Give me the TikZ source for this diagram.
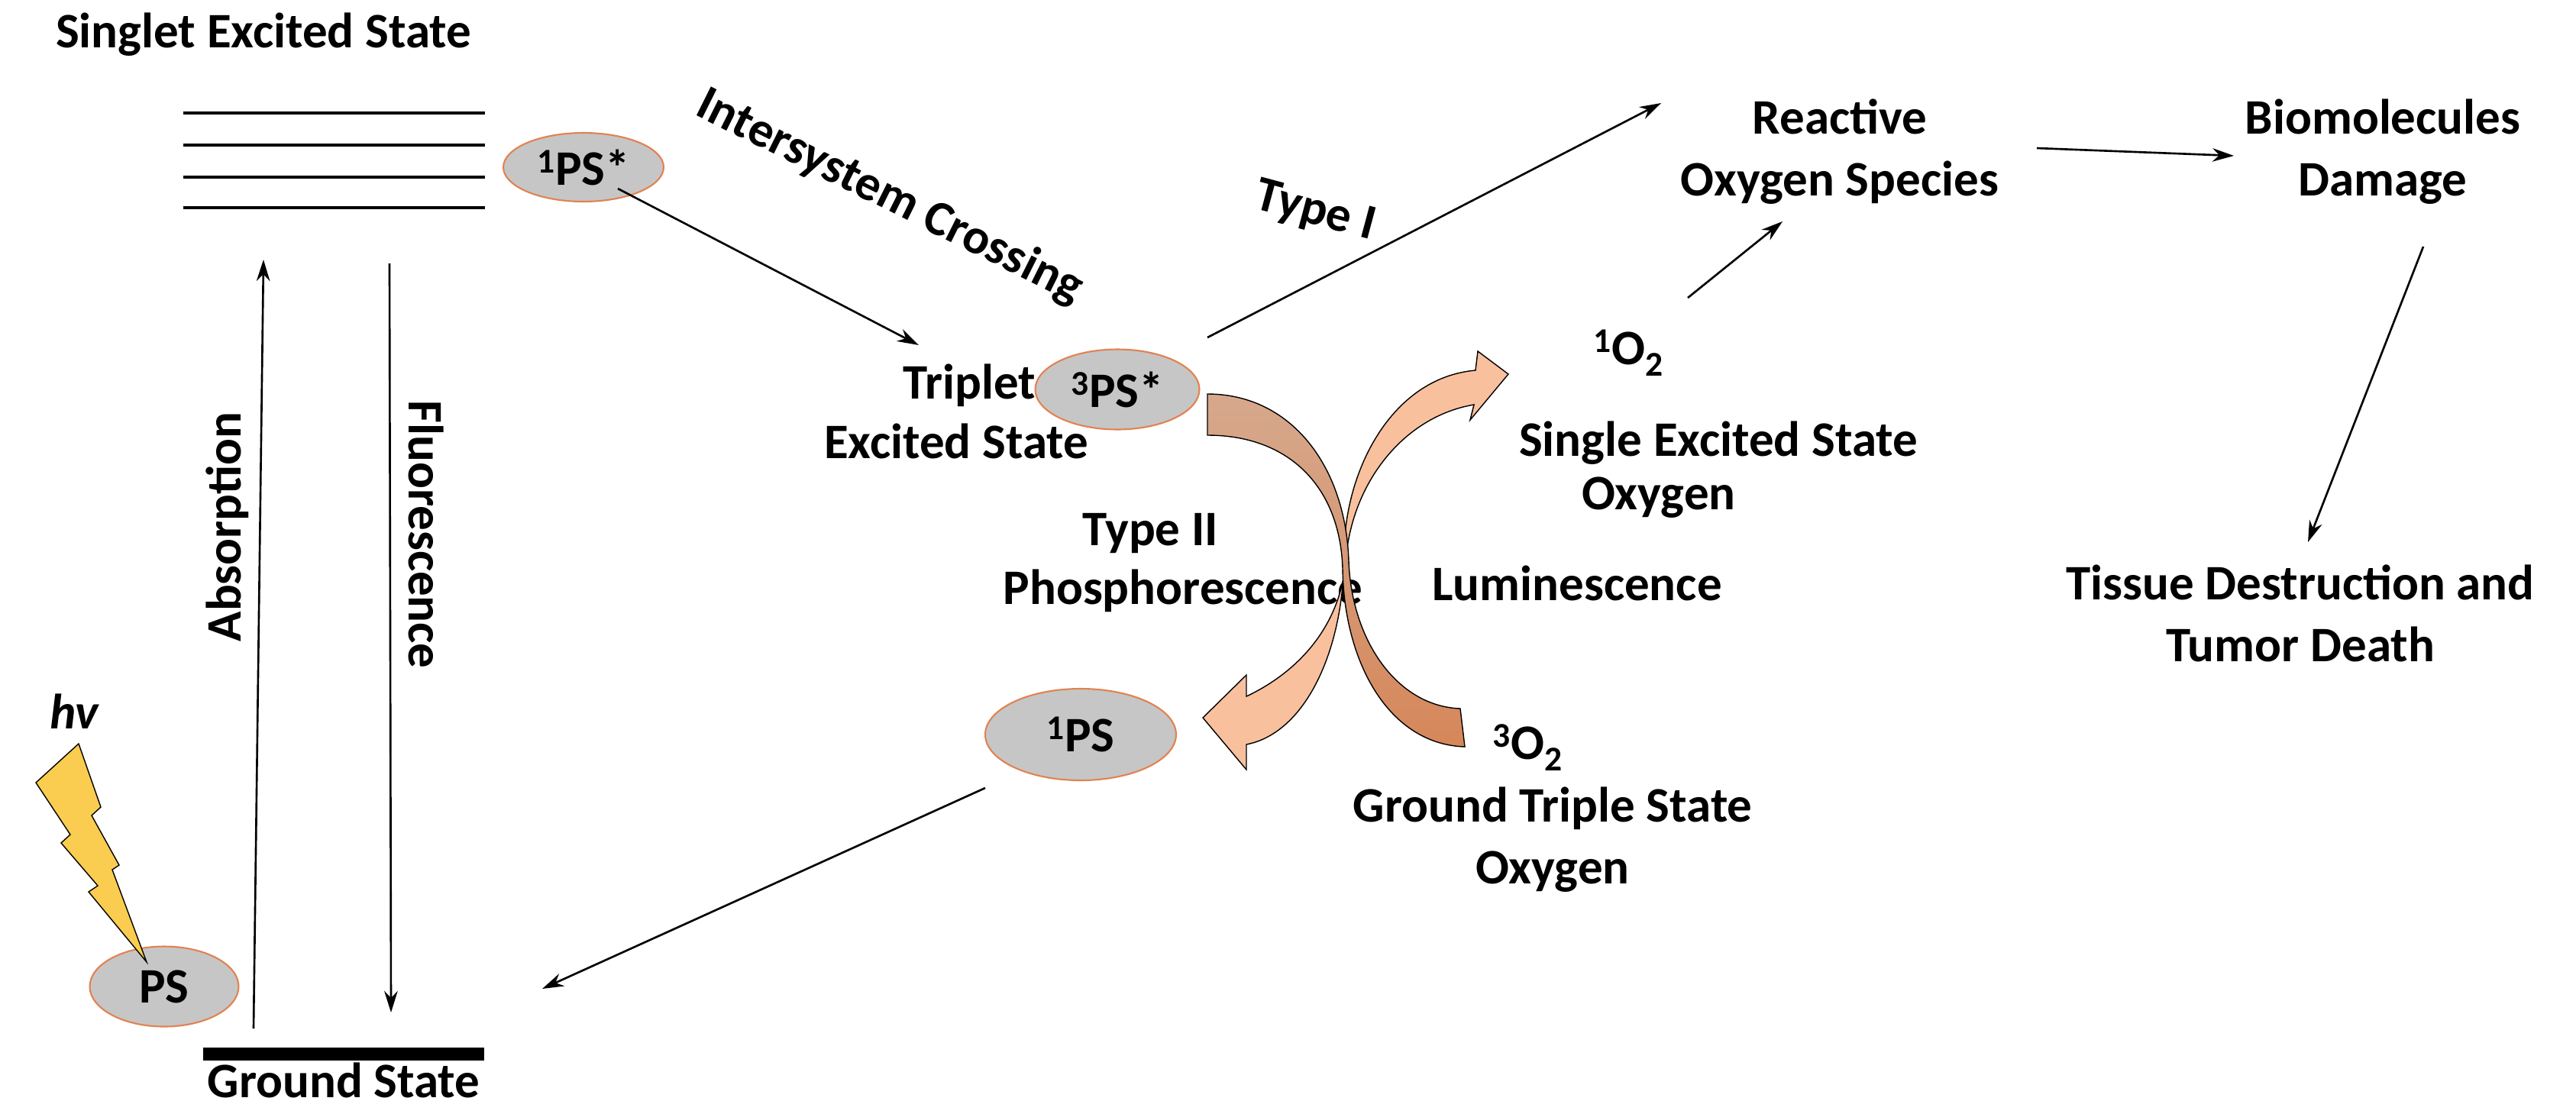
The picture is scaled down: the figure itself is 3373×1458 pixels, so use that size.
\documentclass[tikz,border=0pt]{standalone}
\usepackage{fontspec}
\setmainfont{Carlito}
\usetikzlibrary{shapes.geometric,arrows.meta}
\begin{document}
\begin{tikzpicture}[x=0.02cm,y=-0.02cm,
  txt/.style={font=\fontsize{37}{44}\selectfont\bfseries, align=center, inner sep=1pt},
  ps/.style={ellipse, draw={rgb,255:red,225;green,130;blue,80}, line width=1.2pt, fill=gray!45, font=\fontsize{37}{44}\selectfont\bfseries, inner sep=0pt},
  arr/.style={-{Stealth[length=16pt,width=10pt]}, line width=1.5pt},
  lvl/.style={line width=2.4pt}]
\useasboundingbox (0,0) rectangle (3373,1458);
% texts
\node[txt] (set) at (345,45) {Singlet Excited State};
\foreach \y in {148,190,232,272} \draw[lvl] (240,\y) -- (635,\y);
\node[ps, minimum width=4.2cm, minimum height=1.8cm] (ps1s) at (764,219) {\textsuperscript{1}PS*};
\node[ps, minimum width=4.3cm, minimum height=2.1cm] (ps3s) at (1463,510) {\textsuperscript{3}PS*};
\node[ps, minimum width=5cm, minimum height=2.4cm] (ps1) at (1415,962) {\textsuperscript{1}PS};
\node[ps, minimum width=3.9cm, minimum height=2.1cm] (ps0) at (215,1292) {PS};
\node[txt, rotate=-26.5] (isc) at (1165,258) {Intersystem Crossing};
\node[txt] (trip1) at (1269,505) {Triplet};
\node[txt] (trip2) at (1252,578) {Excited State};
\node[txt, rotate=-15] (t1) at (1722,278) {Type I};
\node[txt] (ros) at (2409,199) {Reactive\\[2pt]Oxygen Species};
\node[txt] (bio) at (3120,199) {Biomolecules\\[2pt]Damage};
\node[txt] (tis) at (3012,803) {Tissue Destruction and\\[2pt]Tumor Death};
\node[txt] (o1) at (2132,462) {\textsuperscript{1}O\textsubscript{2}};
\node[txt] (seso1) at (2250,580) {Single Excited State};
\node[txt] (seso2) at (2172,652) {Oxygen};
\node[txt] (t2a) at (1506,699) {Type II};
\node[txt] (t2b) at (1549,774) {Phosphorescence};
\node[txt] (lum) at (2065,764) {Luminescence};
\node[txt] (o3) at (2000,979) {\textsuperscript{3}O\textsubscript{2}};
\node[txt] (gtso) at (2033,1100) {Ground Triple State\\[2pt]Oxygen};
\node[txt] (gs) at (450,1415) {Ground State};
\node[txt, rotate=90] (abs) at (298,690) {Absorption};
\node[txt, rotate=-90] (flu) at (558,700) {Fluorescence};
\node[txt, font=\fontsize{37}{44}\selectfont\bfseries\itshape] (hv) at (97,932) {hv};
% ground bar
\coordinate (g0) at (266,1380); \coordinate (g1) at (634,1380);
\draw[line width=0.34cm] (g0) -- (g1);
% lightning
\draw[fill={rgb,255:red,250;green,205;blue,80}, line width=0.8pt]
 (103,974) -- (132,1057) -- (120,1068) -- (156,1133) -- (147,1139) -- (192,1260)
 -- (116,1168) -- (128,1160) -- (80,1104) -- (92,1093) -- (47,1025) -- cycle;
% arrows
\coordinate (abs0) at (332,1347); \coordinate (abs1) at (345,340);
\draw[arr] (abs0) -- (abs1);
\coordinate (flu0) at (510,345); \coordinate (flu1) at (512,1326);
\draw[arr] (flu0) -- (flu1);
\draw[arr] (ps1s) ++(45,28) -- (1203,452);
\draw[arr] (ps3s) ++(118,-68) -- (2175,135);
\draw[arr] (2667,194) -- (2925,204);
\draw[arr] (3173,323) -- (3022,710);
\draw[arr] (2210,390) -- (2334,290);
\draw[arr] (ps1) ++(-125,70) -- (710,1295);
% curved band arrows
\draw[line width=0.8pt, fill={rgb,255:red,249;green,192;blue,158}]
 (1575,940) -- (1632,884) -- (1632,912) .. controls (1700,880) and (1755,820) .. (1762,735)
 .. controls (1770,630) and (1840,545) .. (1930,530) -- (1925,550) -- (1975,490) -- (1935,460)
 -- (1932,485) .. controls (1820,495) and (1760,620) .. (1760,725)
 .. controls (1760,850) and (1710,960) .. (1632,975) -- (1632,1008) -- cycle;
\draw[line width=0.8pt, top color={rgb,255:red,214;green,168;blue,140}, bottom color={rgb,255:red,214;green,135;blue,90}]
 (1581,516) .. controls (1690,516) and (1762,610) .. (1766,735)
 .. controls (1770,840) and (1830,925) .. (1912,928) -- (1918,978)
 .. controls (1820,975) and (1760,870) .. (1758,745)
 .. controls (1755,640) and (1690,570) .. (1581,570) -- cycle;
\end{tikzpicture}
\end{document}
